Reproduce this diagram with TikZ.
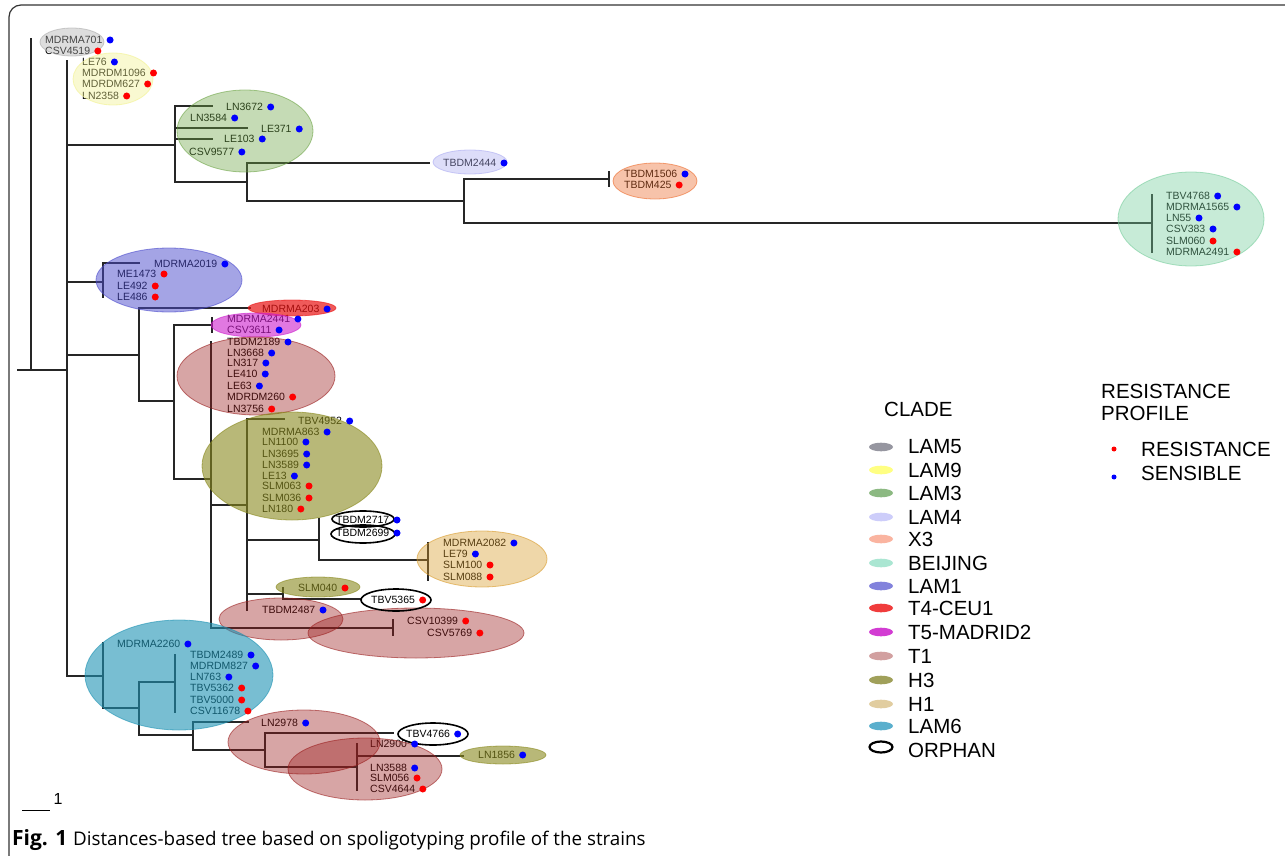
\documentclass[tikz,border=0pt]{standalone}
\usepackage{fontspec}
\setmainfont{Liberation Sans}
\newfontfamily\capfont{Open Sans}
\definecolor{cLfive}{RGB}{172,172,172}
\definecolor{cLnine}{RGB}{242,242,142}
\definecolor{cLthree}{RGB}{110,165,70}
\definecolor{cLfour}{RGB}{172,172,242}
\definecolor{cXthree}{RGB}{237,107,43}
\definecolor{cBeij}{RGB}{117,205,155}
\definecolor{cLone}{RGB}{75,75,205}
\definecolor{cTfour}{RGB}{233,20,20}
\definecolor{cTfive}{RGB}{205,30,205}
\definecolor{cTone}{RGB}{155,30,30}
\definecolor{cHthree}{RGB}{138,138,30}
\definecolor{cHone}{RGB}{217,155,42}
\definecolor{cLsix}{RGB}{30,147,180}
\definecolor{sLfive}{RGB}{150,150,160}
\definecolor{sLnine}{RGB}{255,255,130}
\definecolor{sLthree}{RGB}{140,185,130}
\definecolor{sLfour}{RGB}{205,205,250}
\definecolor{sXthree}{RGB}{250,180,160}
\definecolor{sBeij}{RGB}{170,230,210}
\definecolor{sLone}{RGB}{130,130,220}
\definecolor{sTfour}{RGB}{240,60,60}
\definecolor{sTfive}{RGB}{210,60,210}
\definecolor{sTone}{RGB}{210,160,160}
\definecolor{sHthree}{RGB}{160,160,90}
\definecolor{sHone}{RGB}{225,205,160}
\definecolor{sLsix}{RGB}{90,175,205}
\tikzset{
  br/.style={line width=1.4pt, black!85, line cap=rect},
  lbl/.style={anchor=west, inner sep=0pt, font=\fontsize{10.5}{12}\selectfont},
  dotmark/.style={circle, inner sep=0pt, minimum size=7pt},
  orph/.style={draw=black, line width=1.6pt},
  legtxt/.style={anchor=west, inner sep=0pt, font=\fontsize{20.5}{24}\selectfont},
}
\def\leaves{MDRMA701/45/40/blue, CSV4519/45/51/red, LE76/82/62/blue, MDRDM1096/82/73/red, MDRDM627/82/84/red, LN2358/82/96/red, LN3672/226/107/blue, LN3584/190/118/blue, LE371/261/129/blue, LE103/224/139/blue, CSV9577/189/152/blue, TBDM2444/443/163/blue, TBDM1506/624/174/blue, TBDM425/624/185/red, TBV4768/1166/196/blue, MDRMA1565/1166/207/blue, LN55/1166/218/blue, CSV383/1166/229/blue, SLM060/1166/241/red, MDRMA2491/1166/252/red, MDRMA2019/154/264/blue, ME1473/117/274/red, LE492/117/286/red, LE486/117/297/red, MDRMA203/262/309/blue, MDRMA2441/227/319/blue, CSV3611/227/330/blue, TBDM2189/227/342/blue, LN3668/227/353/blue, LN317/227/363/blue, LE410/227/374/blue, LE63/227/386/blue, MDRDM260/227/397/red, LN3756/227/409/red, TBV4952/298/421/blue, MDRMA863/262/432/blue, LN1100/262/442/blue, LN3695/262/454/blue, LN3589/262/465/blue, LE13/262/476/blue, SLM063/262/486/red, SLM036/262/498/red, LN180/262/509/red, TBDM2717/336/520/blue, TBDM2699/336/533/blue, MDRMA2082/443/543/blue, LE79/443/554/blue, SLM100/443/565/red, SLM088/443/577/red, SLM040/298/588/red, TBV5365/371/600/red, TBDM2487/262/610/blue, CSV10399/407/621/red, CSV5769/427/633/red, MDRMA2260/117/644/blue, TBDM2489/190/655/blue, MDRDM827/190/666/blue, LN763/190/677/blue, TBV5362/190/688/red, TBV5000/190/700/red, CSV11678/190/711/red, LN2978/261/723/blue, TBV4766/406/734/blue, LN2900/370/744/blue, LN1856/478/755/blue, LN3588/370/768/blue, SLM056/370/778/red, CSV4644/370/789/red}
\begin{document}
\begin{tikzpicture}[x=1pt,y=-1pt]
\useasboundingbox (0,0) rectangle (1285,856);
\clip (0,0) rectangle (1285,856);
\fill[white] (0,0) rectangle (1285,856);
% frame
\draw[line width=1.2pt, rounded corners=12pt, black!80] (9,5) rectangle (1320,880);
% tree
\foreach \xa/\ya/\xb/\yb in {18/370/67/370, 31/39/31/370, 67/61/67/676,
  67/145/175/145, 67/282/103/282, 67/355/139/355, 67/676/103/676,
  175/106/175/182, 175/106/212/106, 175/128/247/128, 175/139/212/139, 175/182/247/182,
  247/163/247/201, 247/163/429/163, 247/201/464/201,
  464/179/464/223, 464/179/609/179, 609/172/609/186, 464/223/1152/223, 1152/195/1152/252,
  103/263/103/297, 103/263/139/263,
  139/308/139/401, 139/308/250/308, 139/401/174/401,
  174/325/174/479, 174/325/212/325, 212/318/212/332,
  174/479/211/479, 211/342/211/628, 211/505/247/505, 247/419/247/610, 247/419/284/419,
  247/540/319/540, 319/519/319/560, 319/560/428/560, 428/543/428/580,
  247/594/283/594, 283/588/283/599, 283/599/360/599,
  211/628/393/628, 393/620/393/635,
  103/643/103/708, 103/708/139/708, 139/682/139/735, 139/682/175/682, 175/655/175/712,
  139/735/193/735, 193/722/193/750, 193/722/248/722, 193/750/265/750,
  265/733/265/767, 265/733/393/733, 265/767/357/767, 357/744/357/790, 357/756/463/756}
  {\draw[br] (\xa,\ya) -- (\xb,\yb);}
% labels
\foreach \t/\x/\y/\c in \leaves {\node[lbl] (L\t) at (\x,\y) {\t};}
% clade ellipses
\foreach \cx/\cy/\rx/\ry/\col/\op in {
  72/42/32/14/cLfive/0.4, 113/79/40/26/cLnine/0.4, 245/131/68/41/cLthree/0.4,
  470/162/37/12/cLfour/0.4, 655/181/42/18/cXthree/0.4, 1191/219/73/47/cBeij/0.4,
  169/280/73/32/cLone/0.5, 292/308/44/8/cTfour/0.7, 256/325/45/12/cTfive/0.6,
  256/376/79/39/cTone/0.4, 292/466/90/54/cHthree/0.6, 482/559/65/28/cHone/0.4,
  318/587/42/10/cHthree/0.6, 281/619/62/21/cTone/0.4, 416/633/108/25/cTone/0.4,
  179/675/94/55/cLsix/0.6, 304/742/76/32/cTone/0.4, 365/769/77/31/cTone/0.4,
  503/755/43/9/cHthree/0.6}
  {\path[fill=\col, fill opacity=\op, draw=\col, draw opacity=0.6, line width=0.8pt]
     (\cx,\cy) ellipse [x radius=\rx, y radius=\ry];}
% orphans
\foreach \cx/\cy/\rx/\ry in {363/519/31/8, 363/534/32/9, 396/600/35/11, 433/734/35/11}
  {\draw[orph] (\cx,\cy) ellipse [x radius=\rx, y radius=\ry];}
% resistance dots
\foreach \t/\x/\y/\c in \leaves {\node[dotmark, fill=\c] (D\t) at ([xshift=7.5pt]L\t.east) {};}
% scale bar
\coordinate (sa) at (22,810); \coordinate (sb) at (50,810);
\draw[line width=1pt] (sa) -- (sb);
\node[anchor=center, inner sep=0pt, font=\fontsize{16}{18}\selectfont] (scl) at (58,799) {1};
% legend
\node[legtxt] (cladeT) at (884,409) {CLADE};
\foreach \yy/\col/\name in {447/sLfive/LAM5, 470/sLnine/LAM9, 493/sLthree/LAM3, 517/sLfour/LAM4,
  539/sXthree/X3, 563/sBeij/BEIJING, 586/sLone/LAM1, 608/sTfour/T4-CEU1, 632/sTfive/T5-MADRID2,
  656/sTone/T1, 680/sHthree/H3, 704/sHone/H1, 726/sLsix/LAM6}
  {\fill[\col] (881,\yy) ellipse [x radius=12, y radius=4.3];
   \node[legtxt] (leg\name) at (908,\yy) {\name};}
\draw[line width=2.2pt] (881,747) ellipse [x radius=11.5, y radius=5.5];
\node[legtxt] (legORPHAN) at (908,750) {ORPHAN};
\node[legtxt, align=left, anchor=north west] (resT) at (1101,384) {RESISTANCE\\[-2pt]PROFILE};
\node[dotmark, fill=red, minimum size=5pt] (rdotleg) at (1114,449) {};
\node[dotmark, fill=blue, minimum size=5pt] (bdotleg) at (1114,477) {};
\node[legtxt] (resR) at (1141,449) {RESISTANCE};
\node[legtxt] (resS) at (1141,473) {SENSIBLE};
% caption
\node[anchor=base west, inner sep=0pt, font=\capfont\bfseries\fontsize{21}{24}\selectfont] (capA) at (12,845) {Fig. 1};
\node[anchor=base west, inner sep=0pt, font=\capfont\fontsize{18.8}{22}\selectfont] (capB) at ([xshift=5.5pt]capA.base east)
  {Distances-based tree based on spoligotyping profile of the strains};
\end{tikzpicture}
\end{document}
